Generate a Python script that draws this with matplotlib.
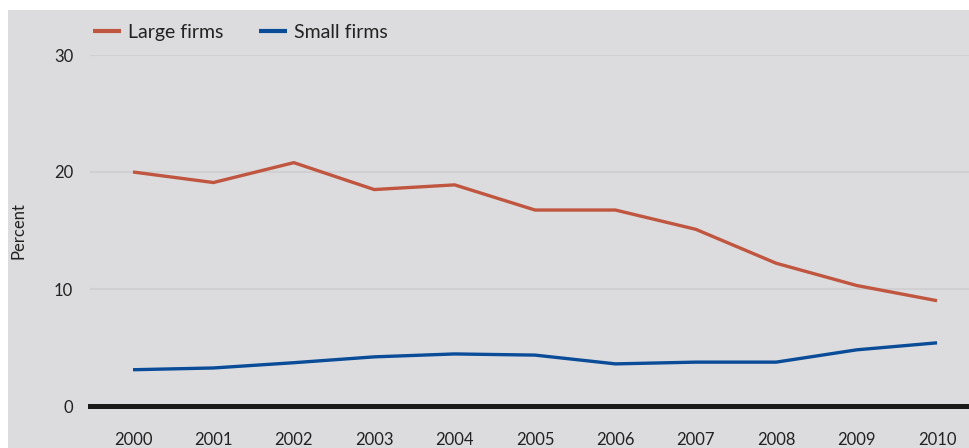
import matplotlib.pyplot as plt
from matplotlib.patches import Rectangle

plt.rcParams["font.family"] = ["Lato", "DejaVu Sans"]

# Data
years = [2000, 2001, 2002, 2003, 2004, 2005, 2006, 2007, 2008, 2009, 2010]
large_firms = [20.0, 19.1, 20.8, 18.5, 18.9, 16.75, 16.75, 15.1, 12.2, 10.3, 9.0]
small_firms = [3.1, 3.25, 3.7, 4.2, 4.45, 4.35, 3.6, 3.75, 3.75, 4.8, 5.4]

bg = "#dcdcdf"
red = "#c0563f"
blue = "#0a4c98"

fig = plt.figure(figsize=(9.7, 4.48), dpi=100, facecolor="white")

# gray panel behind the chart
fig.patches.append(Rectangle((8 / 970, 0), 1, (448 - 10) / 448,
                             transform=fig.transFigure, facecolor=bg,
                             edgecolor="none", zorder=-10))

ax = fig.add_axes([90 / 970, 42 / 448, 880 / 970, (406 - 55) / 448])
ax.set_facecolor(bg)

ax.plot(years, large_firms, color=red, linewidth=2.4, label="Large firms",
        solid_capstyle="butt")
ax.plot(years, small_firms, color=blue, linewidth=2.4, label="Small firms",
        solid_capstyle="butt")

ax.set_xlim(1999.465, 2010.41)
ax.set_ylim(0, 30)
ax.set_yticks([0, 10, 20, 30])
ax.set_xticks(years)
ax.yaxis.grid(True, color="#d0d0d2", linewidth=1.5)
ax.set_axisbelow(True)
ax.axhline(0, color="#1a1a1a", linewidth=3.6, zorder=3, clip_on=False)

for s in ax.spines.values():
    s.set_visible(False)

ax.tick_params(axis="both", length=0, labelsize=12, colors="#222222")
ax.tick_params(axis="x", pad=19)
ax.tick_params(axis="y", pad=12)
ax.set_ylabel("Percent", fontsize=12, color="#222222", labelpad=20)

leg = ax.legend(loc="lower left", bbox_to_anchor=(-0.012, 1.002), ncol=2,
                frameon=False, fontsize=14, handlelength=1.45,
                columnspacing=1.8, handletextpad=0.36, borderaxespad=0.3)
for line in leg.get_lines():
    line.set_linewidth(3)
for t in leg.get_texts():
    t.set_color("#222222")

fig.savefig("out.png", dpi=100, facecolor="white")
